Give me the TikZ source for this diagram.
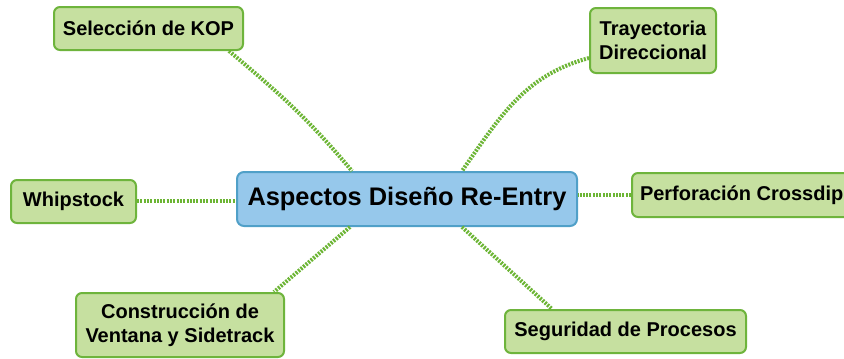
\documentclass[tikz,border=0pt]{standalone}
\usepackage{fontspec}
\setmainfont{Liberation Sans}
\definecolor{gfill}{HTML}{C6E0A0}
\definecolor{gline}{HTML}{6EB43C}
\definecolor{bfill}{HTML}{96C8EB}
\definecolor{bline}{HTML}{50A0C8}
\definecolor{conn}{HTML}{6CB534}
\begin{document}
\begin{tikzpicture}[x=1pt,y=-1pt,
  topic/.style={draw=gline,fill=gfill,line width=2pt,rounded corners=6pt,inner sep=0pt,align=center,
    font=\fontsize{20}{24}\selectfont\bfseries},
  central/.style={draw=bline,fill=bfill,line width=2pt,rounded corners=7pt,inner sep=0pt,align=center,
    font=\fontsize{25.4}{30}\selectfont\bfseries},
  link/.style={draw=conn,line width=4pt,dash pattern=on 2pt off 1.3pt}]
\useasboundingbox (0,0) rectangle (844,359);
\fill[white] (0,0) rectangle (844,359);
\node[central,minimum width=340pt,minimum height=54pt] (c) at (407,199) {Aspectos Diseño Re-Entry};
\node[topic,minimum width=189pt,minimum height=43pt] (kop) at (148.5,28.5) {Selección de KOP};
\node[topic,minimum width=126pt,minimum height=65pt] (tray) at (653,40.5) {Trayectoria\\Direccional};
\node[topic,minimum width=125pt,minimum height=43pt] (whip) at (73.5,201.5) {Whipstock};
\node[topic,minimum width=219pt,minimum height=44pt,anchor=west] (cross) at (631,195) {\hspace*{8pt}Perforación Crossdip\hspace*{8pt}};
\node[topic,minimum width=208pt,minimum height=64pt] (con) at (180,325) {Construcción de\\Ventana y Sidetrack};
\node[topic,minimum width=241pt,minimum height=43pt] (seg) at (625.5,331.5) {Seguridad de Procesos};
\coordinate (kopS) at ([xshift=-15pt]kop.south east);
\coordinate (cN1) at ([xshift=-55pt]c.north);
\coordinate (cN2) at ([xshift=55pt]c.north);
\coordinate (trayW) at ([yshift=16pt]tray.south west);
\coordinate (cS1) at ([xshift=-57pt]c.south);
\coordinate (cS2) at ([xshift=55pt]c.south);
\coordinate (conN) at ([xshift=-11pt]con.north east);
\coordinate (segN) at ([xshift=48pt]seg.north west);
\draw[link] (kopS) to[out=-40,in=130] (cN1);
\draw[link] (trayW) to[out=195,in=55] (cN2);
\draw[link] (whip.east |- 0,201) -- (c.west |- 0,201);
\draw[link] (cross.west) -- (cross.west -| c.east);
\draw[link] (cS1) -- (conN);
\draw[link] (cS2) -- (segN);
\end{tikzpicture}
\end{document}
